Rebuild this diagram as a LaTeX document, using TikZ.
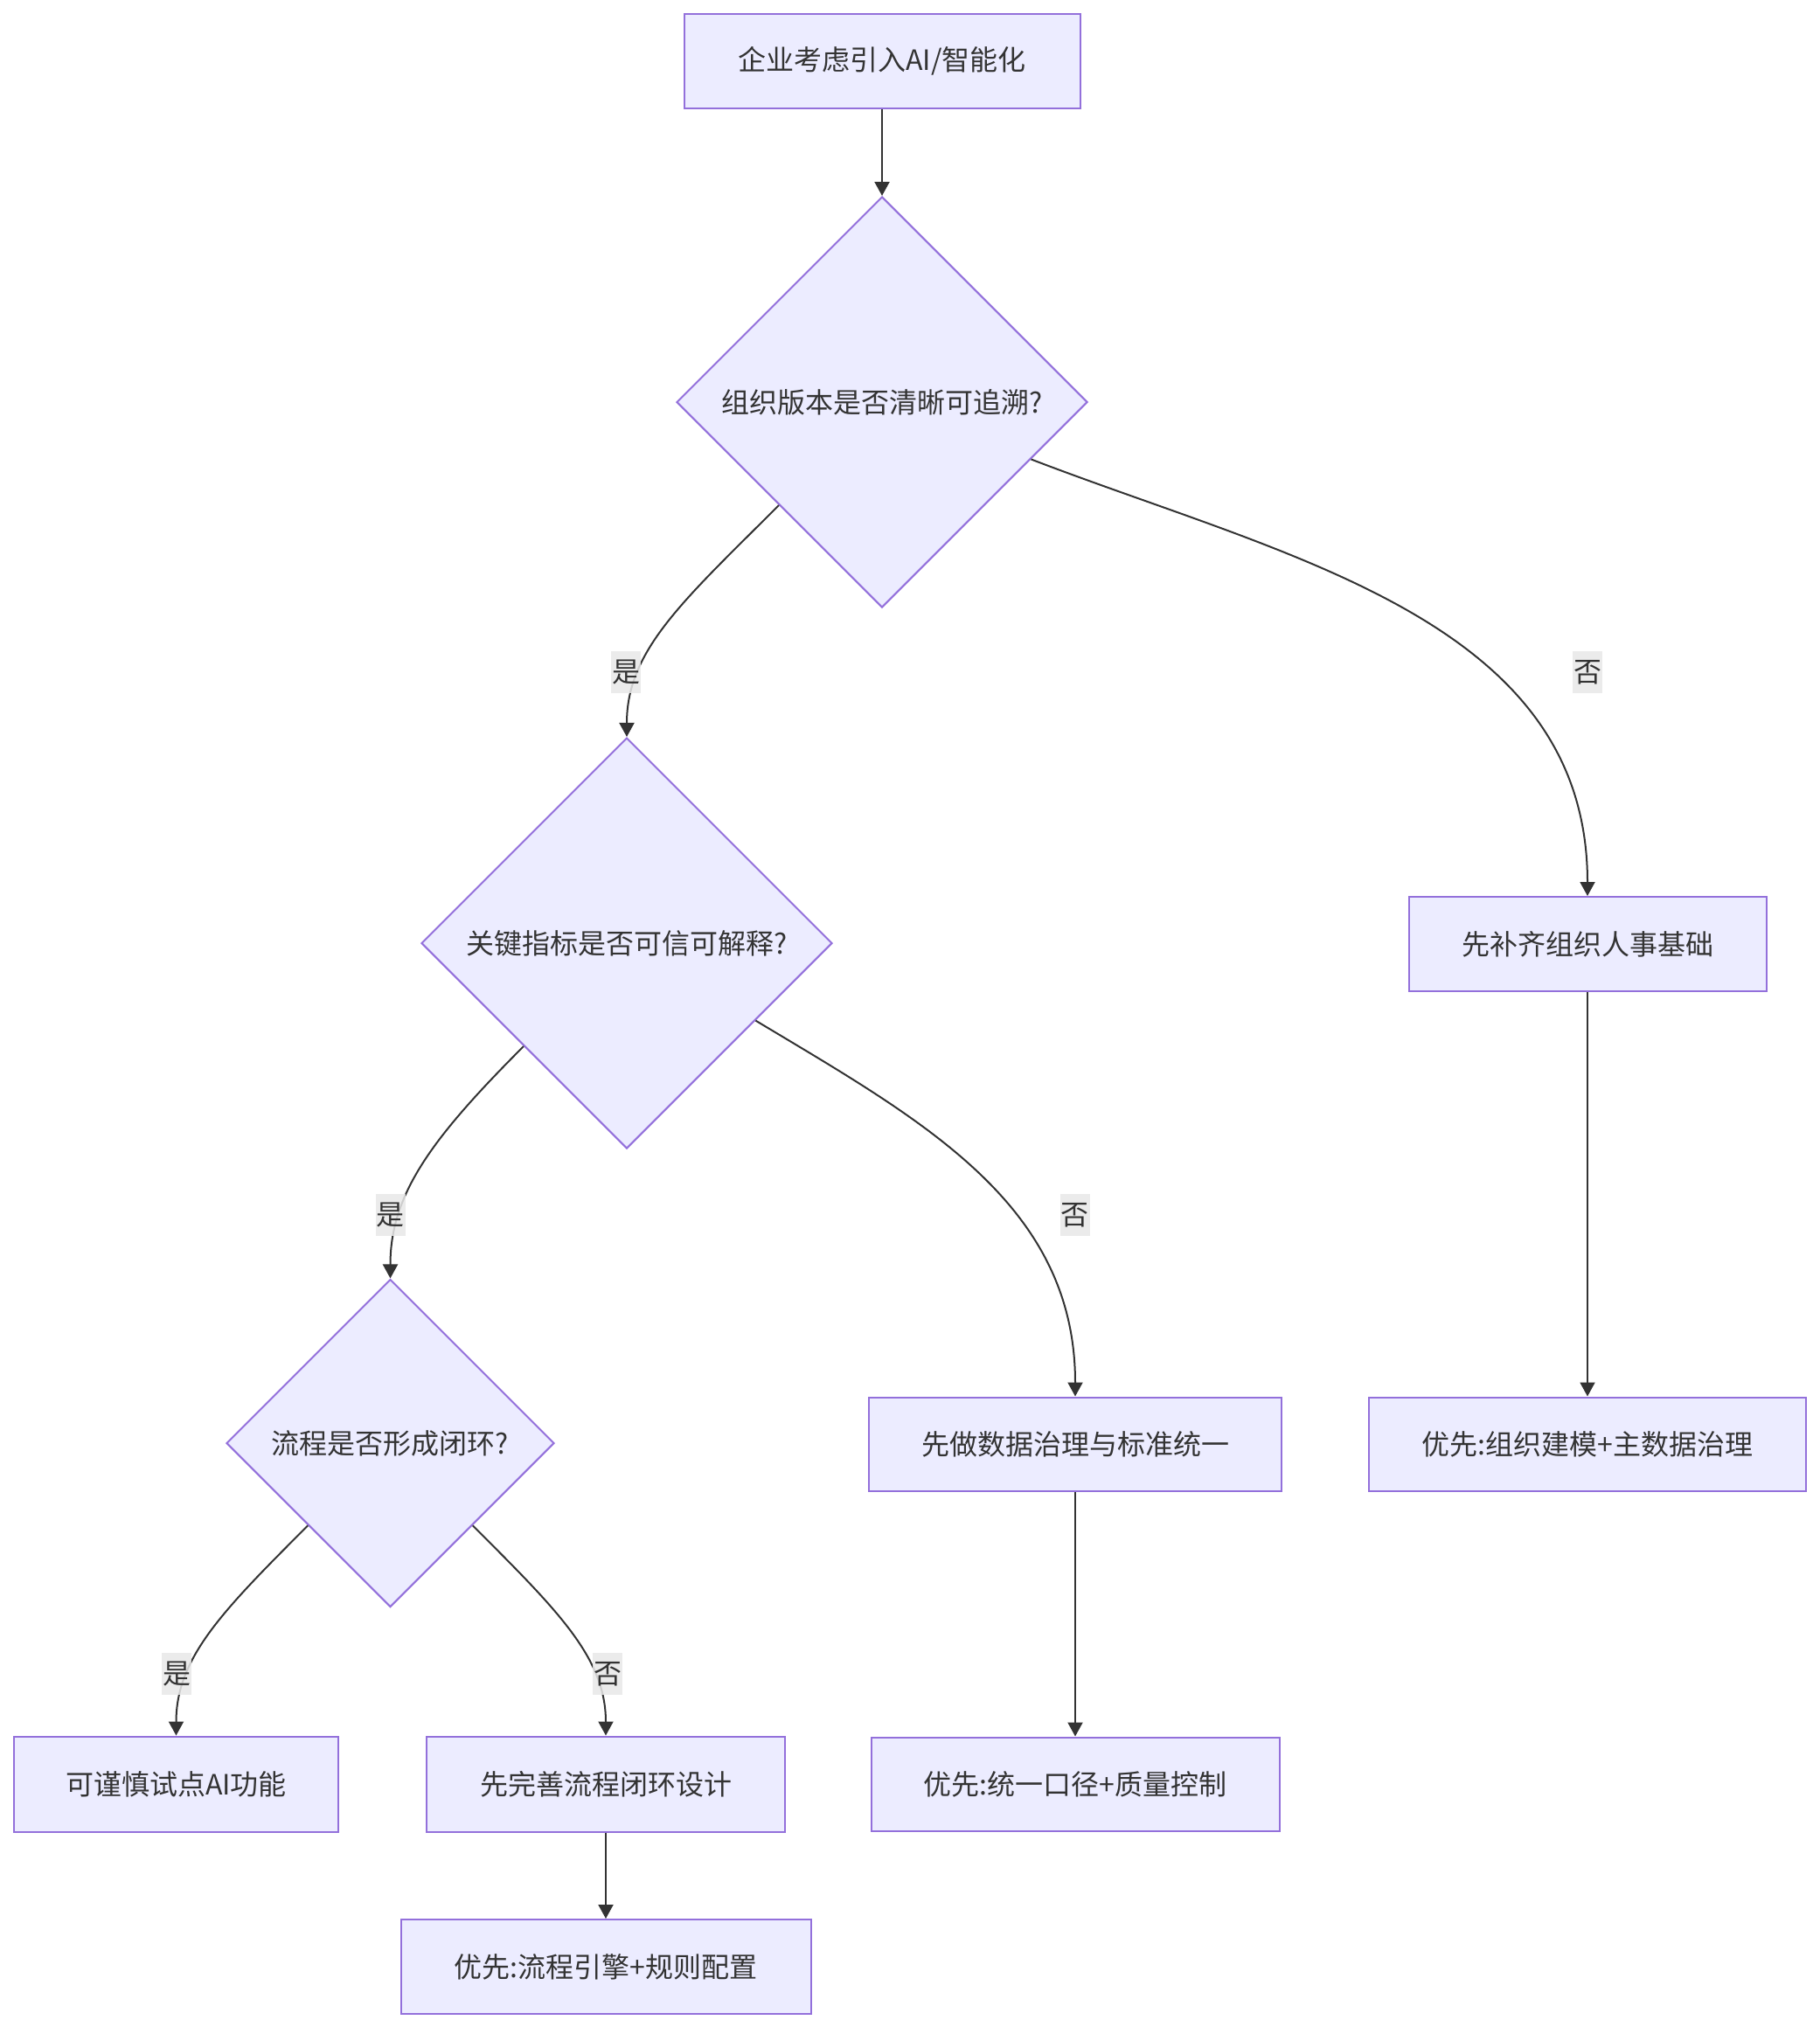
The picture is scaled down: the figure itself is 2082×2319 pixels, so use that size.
\documentclass[tikz,border=0pt]{standalone}
\usepackage{fontspec}
\usepackage{tikz}
\usetikzlibrary{
    arrows.meta,
    shapes.geometric
}
\newfontfamily\cjkfont{Noto Sans CJK SC}
\definecolor{ink}{RGB}{51,51,51}
\definecolor{boxfill}{RGB}{236,236,255}
\definecolor{boxline}{RGB}{147,112,219}
\definecolor{labelbg}{RGB}{232,232,232}
\tikzset{
    chartfont/.style={
        font=\cjkfont\fontsize{32}{38}\selectfont
    },
    actionbox/.style={
        rectangle,
        draw=boxline,
        fill=boxfill,
        line width=2pt,
        text=ink,
        chartfont,
        minimum height=108pt,
        inner sep=0pt,
        align=center
    },
    decision/.style={
        diamond,
        aspect=1,
        draw=boxline,
        fill=boxfill,
        line width=2pt,
        text=ink,
        chartfont,
        inner sep=0pt,
        minimum width=470pt,
        minimum height=470pt
    },
    flowarrow/.style={
        -{Triangle[length=16pt, width=17pt]},
        draw=ink,
        line width=2pt
    },
    branchlabel/.style={
        fill=labelbg,
        fill opacity=0.85,
        text opacity=1,
        text=ink,
        chartfont,
        inner xsep=1pt,
        inner ysep=0pt,
        minimum height=48pt
    }
}

\begin{document}
\begin{tikzpicture}[x=1pt, y=-1pt]

\useasboundingbox (0,0) rectangle (2082,2319);

% Nodes
\node[actionbox, minimum width=453pt] (start) at (1009, 70) {企业考虑引入AI/智能化};
\node[decision] (q1) at (1009, 460) {组织版本是否清晰可追溯?};
\node[decision] (q2) at (717, 1079) {关键指标是否可信可解释?};
\node[actionbox, minimum width=409pt] (fixorg) at (1816, 1080) {先补齐组织人事基础};
\node[decision, minimum width=375pt, minimum height=375pt] (q3) at (446.5, 1651) {流程是否形成闭环?};
\node[actionbox, minimum width=472pt, minimum height=107pt] (fixdata) at (1230, 1652) {先做数据治理与标准统一};
\node[actionbox, minimum width=500pt, minimum height=107pt] (prioorg) at (1816, 1652) {优先:组织建模+主数据治理};
\node[actionbox, minimum width=371pt, minimum height=109pt] (pilot) at (201.5, 2041) {可谨慎试点AI功能};
\node[actionbox, minimum width=410pt, minimum height=109pt] (fixflow) at (693, 2041) {先完善流程闭环设计};
\node[actionbox, minimum width=467pt, minimum height=107pt] (priodata) at (1230, 2041) {优先:统一口径+质量控制};
\node[actionbox, minimum width=469pt] (prioflow) at (693, 2250) {优先:流程引擎+规则配置};

% Connectors
\draw[flowarrow] (start) -- (q1);
\draw[flowarrow] (q1) to[out=225, in=90, out looseness=1.25, in looseness=0.8] (q2);
\draw[flowarrow] (q1) to[out=-21, in=90] (fixorg);
\draw[flowarrow] (q2) to[out=225, in=90, out looseness=1.25, in looseness=0.8] (q3);
\draw[flowarrow] (q2) to[out=-31, in=90] (fixdata);
\draw[flowarrow] (fixorg) -- (prioorg);
\draw[flowarrow] (q3) to[out=225, in=90, out looseness=1.25, in looseness=0.8] (pilot);
\draw[flowarrow] (q3) to[out=-45, in=90, out looseness=1.25, in looseness=0.8] (fixflow);
\draw[flowarrow] (fixdata) -- (priodata);
\draw[flowarrow] (fixflow) -- (prioflow);

% Branch labels
\node[branchlabel] (yes1) at (716, 769) {是};
\node[branchlabel] (no1) at (1816, 769) {否};
\node[branchlabel] (yes2) at (446.5, 1390) {是};
\node[branchlabel] (no2) at (1229.5, 1390) {否};
\node[branchlabel] (yes3) at (202, 1915) {是};
\node[branchlabel] (no3) at (695, 1915) {否};

\end{tikzpicture}
\end{document}
